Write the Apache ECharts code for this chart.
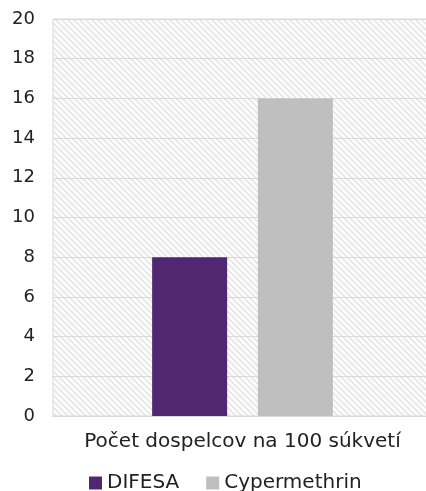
<!DOCTYPE html>
<html>
<head>
<meta charset="utf-8">
<script src="https://cdn.jsdelivr.net/npm/echarts@6/dist/echarts.min.js"></script>
<style>
  html, body { margin: 0; padding: 0; background: #fff; }
  #chart { width: 426px; height: 491px; }
</style>
</head>
<body>
<div id="chart"></div>
<script>
// data
var categories = ['Počet dospelcov na 100 súkvetí'];
var seriesNames = ['DIFESA', 'Cypermethrin'];
var difesaValues = [8];
var cypermethrinValues = [16];
var seriesColors = ['#4f2871', '#bfbfbf'];

// hatched plot background
var hatch = document.createElement('canvas');
hatch.width = 6;
hatch.height = 6;
var hctx = hatch.getContext('2d');
hctx.fillStyle = '#ffffff';
hctx.fillRect(0, 0, 6, 6);
hctx.strokeStyle = '#e6e6e6';
hctx.lineWidth = 1.8;
hctx.beginPath();
hctx.moveTo(-1, -1); hctx.lineTo(7, 7);
hctx.moveTo(-4, 2); hctx.lineTo(4, 10);
hctx.moveTo(2, -4); hctx.lineTo(10, 4);
hctx.stroke();

var font = '"DejaVu Sans", sans-serif';
var myChart = echarts.init(document.getElementById('chart'));
myChart.setOption({
  animation: false,
  textStyle: { fontFamily: font },
  grid: {
    left: 53, top: 19, width: 379, height: 397,
    outerBoundsMode: 'none',
    show: true,
    backgroundColor: { image: hatch, repeat: 'repeat' },
    borderColor: '#d9d9d9',
    borderWidth: 1
  },
  legend: {
    top: 468,
    left: 84,
    itemWidth: 13, itemHeight: 13,
    itemGap: 27,
    icon: 'rect',
    textStyle: { fontSize: 20, color: '#222', fontFamily: font },
    data: seriesNames
  },
  xAxis: {
    type: 'category',
    data: categories,
    axisLine: { lineStyle: { color: '#d9d9d9' } },
    axisTick: { show: false },
    axisLabel: { fontSize: 20, color: '#222', margin: 16 }
  },
  yAxis: {
    type: 'value',
    min: 0, max: 20, interval: 2,
    axisLine: { show: false },
    axisTick: { show: false },
    splitLine: { lineStyle: { color: '#d9d9d9' } },
    axisLabel: { fontSize: 18, color: '#222', margin: 18 }
  },
  series: [
    {
      name: seriesNames[0], type: 'bar', data: difesaValues,
      barWidth: 75, barGap: '41%',
      itemStyle: { color: seriesColors[0] }
    },
    {
      name: seriesNames[1], type: 'bar', data: cypermethrinValues,
      barWidth: 75,
      itemStyle: { color: seriesColors[1] }
    }
  ]
});
</script>
</body>
</html>
